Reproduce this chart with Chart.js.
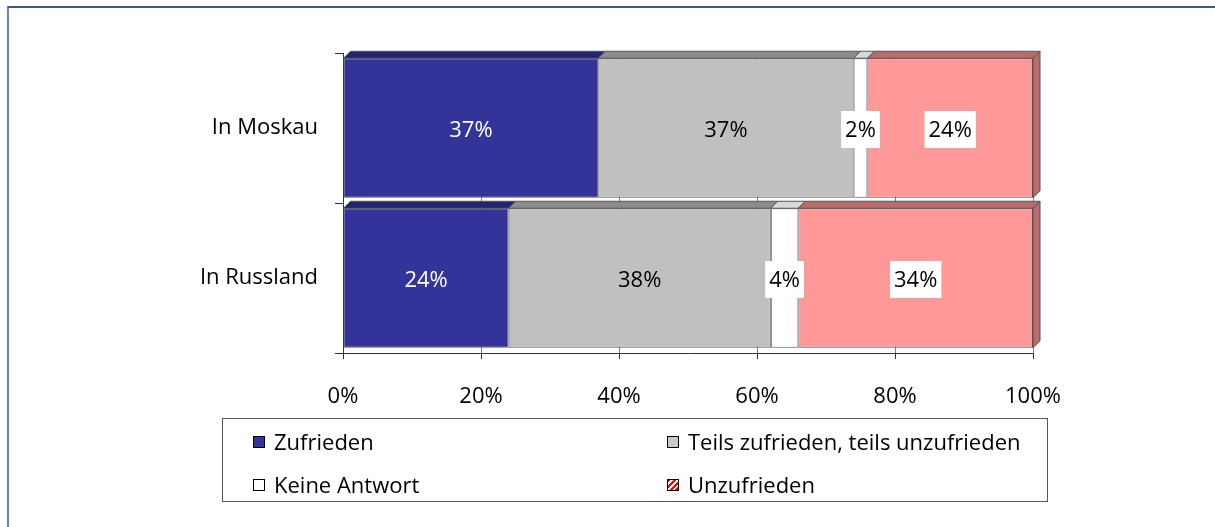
<!DOCTYPE html>
<html>
<head>
<meta charset="utf-8">
<script src="https://cdn.jsdelivr.net/npm/chart.js@4/dist/chart.umd.min.js"></script>
<style>
  html, body { margin: 0; padding: 0; background: #fff; }
  #wrap { position: relative; width: 1215px; height: 527px; overflow: hidden; font-family: "Open Sans", sans-serif; }
  #frame { position: absolute; left: 7px; top: 6px; right: -5px; bottom: -5px;
           border-top: 2px solid #2a5a9a; border-left: 2px solid #5b8ac6; }
  #legend { position: absolute; left: 222px; top: 418px; width: 826px; height: 84px;
            border: 1px solid #555; box-sizing: border-box; }
  .item { position: absolute; font-size: 22px; color: #000; line-height: 26px; white-space: nowrap; }
  .sw { display: inline-block; width: 10px; height: 10px; border: 1px solid #000; margin-right: 9px; vertical-align: 2px; }
</style>
</head>
<body>
<div id="wrap">
  <canvas id="c" width="1215" height="527"></canvas>
  <div id="frame"></div>
  <div id="legend"></div>
</div>
<script>
const categories = ['In Moskau', 'In Russland'];
const seriesNames = ['Zufrieden', 'Teils zufrieden, teils unzufrieden', 'Keine Antwort', 'Unzufrieden'];
const zufrieden = [37, 24];
const teils = [37, 38];
const keineAntwort = [2, 4];
const unzufrieden = [24, 34];
const xTicks = [0, 20, 40, 60, 80, 100];

const fills = ['#333399', '#c0c0c0', '#ffffff', '#ff9999'];
const tops = ['#232370', '#8c8c8c', '#d8d8d8', '#b86c6c'];
const textColors = ['#ffffff', '#000000', '#000000', '#000000'];
const boxed = [false, false, true, true];

const depth = 7;

const bar3d = {
  id: 'bar3d',
  afterDatasetsDraw(chart) {
    const ctx = chart.ctx;
    const n = chart.data.datasets.length;
    ctx.save();
    chart.data.datasets.forEach((ds, i) => {
      chart.getDatasetMeta(i).data.forEach(el => {
        const top = el.y - el.height / 2;
        const bot = el.y + el.height / 2;
        const x0 = Math.min(el.base, el.x), x1 = Math.max(el.base, el.x);
        ctx.fillStyle = tops[i];
        ctx.strokeStyle = '#555';
        ctx.lineWidth = 1;
        ctx.beginPath();
        ctx.moveTo(x0, top);
        ctx.lineTo(x0 + depth, top - depth);
        ctx.lineTo(x1 + depth, top - depth);
        ctx.lineTo(x1, top);
        ctx.closePath();
        ctx.fill();
        ctx.stroke();
        if (i === n - 1) {
          ctx.beginPath();
          ctx.moveTo(x1, top);
          ctx.lineTo(x1 + depth, top - depth);
          ctx.lineTo(x1 + depth, bot - depth);
          ctx.lineTo(x1, bot);
          ctx.closePath();
          ctx.fill();
          ctx.stroke();
        }
      });
    });
    // value labels
    ctx.font = '22px "Open Sans", sans-serif';
    ctx.textAlign = 'center';
    ctx.textBaseline = 'middle';
    chart.data.datasets.forEach((ds, i) => {
      chart.getDatasetMeta(i).data.forEach((el, j) => {
        const txt = ds.data[j] + '%';
        const cx = (el.base + el.x) / 2;
        const cy = el.y + 2;
        if (boxed[i]) {
          const w = ctx.measureText(txt).width + 8;
          ctx.fillStyle = '#ffffff';
          ctx.fillRect(cx - w / 2, cy - 19, w, 37);
        }
        ctx.fillStyle = textColors[i];
        ctx.fillText(txt, cx, cy + 1);
      });
    });
    ctx.restore();
  }
};

const seriesData = [zufrieden, teils, keineAntwort, unzufrieden];

new Chart(document.getElementById('c'), {
  type: 'bar',
  data: {
    labels: categories,
    datasets: seriesNames.map((name, i) => ({
      label: name,
      data: seriesData[i],
      backgroundColor: fills[i],
      borderColor: '#555',
      borderWidth: 1,
      borderSkipped: false,
      barPercentage: 0.93,
      categoryPercentage: 1
    }))
  },
  options: {
    indexAxis: 'y',
    responsive: false,
    animation: false,
    layout: { padding: { left: 0, right: 182, top: 53, bottom: 114 } },
    plugins: {
      legend: { display: false },
      tooltip: { enabled: false }
    },
    scales: {
      x: {
        stacked: true,
        min: 0,
        max: 100,
        afterBuildTicks: s => { s.ticks = xTicks.map(v => ({ value: v })); },
        afterFit: s => { s.height = 60; },
        ticks: {
          callback: v => v + '%',
          color: '#000',
          font: { family: 'Open Sans', size: 22 },
          padding: 25
        },
        grid: { color: '#808080', tickLength: 6, tickColor: '#333' },
        border: { display: true, color: '#333' }
      },
      y: {
        stacked: true,
        afterFit: s => { s.width = 343; },
        ticks: {
          color: '#000',
          font: { family: 'Open Sans', size: 22 },
          padding: 17
        },
        grid: { drawOnChartArea: false, tickLength: 8, color: '#333' },
        border: { display: true, color: '#333' }
      }
    }
  },
  plugins: [bar3d]
});

// legend
const legend = document.getElementById('legend');
const pos = [[30, 9], [444, 9], [30, 52], [444, 52]];
seriesNames.forEach((name, i) => {
  const d = document.createElement('div');
  d.className = 'item';
  d.style.left = pos[i][0] + 'px';
  d.style.top = pos[i][1] + 'px';
  const sw = document.createElement('span');
  sw.className = 'sw';
  if (i === 3) {
    sw.style.background = 'repeating-linear-gradient(135deg, #ff0000 0 2px, #ffffff 2px 4px)';
  } else {
    sw.style.background = i === 1 ? '#c8c8c8' : fills[i];
  }
  d.appendChild(sw);
  d.appendChild(document.createTextNode(name));
  legend.appendChild(d);
});
</script>
</body>
</html>
